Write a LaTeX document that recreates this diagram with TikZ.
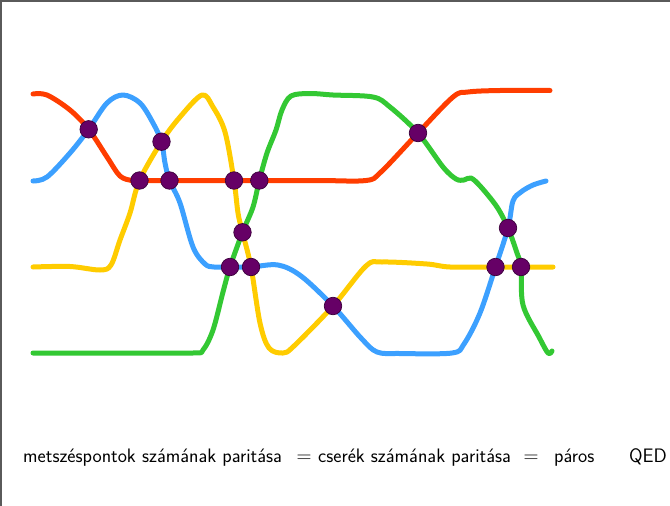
\documentclass[tikz,border=0pt]{standalone}
\usepackage{fontspec}
\begin{document}
\definecolor{cred}{RGB}{255,61,0}
\definecolor{cblue}{RGB}{60,160,255}
\definecolor{cyellow}{RGB}{255,204,0}
\definecolor{cgreen}{RGB}{51,200,51}
\definecolor{dotpurple}{RGB}{102,0,102}
\definecolor{dotedge}{RGB}{60,0,60}
\definecolor{framegray}{RGB}{90,90,90}
\begin{tikzpicture}[x=1pt,y=-1pt,
  strand/.style={line width=5pt, line cap=round, line join=round},
  crossdot/.style={circle, fill=dotpurple, draw=dotedge, line width=0.7pt, minimum size=17.5pt, inner sep=0pt},
  caption/.style={font=\sffamily\fontsize{19.5}{23}\selectfont, inner sep=0pt}]
\useasboundingbox (0,0) rectangle (670,506);
\draw[framegray, line width=1.6pt] (1.2,506) -- (1.2,1.2) -- (670,1.2);

% crossing points
\coordinate (p1) at (88.7,129.3);
\coordinate (p2) at (161.5,141.7);
\coordinate (p3) at (139.5,180.5);
\coordinate (p4) at (169.5,180.5);
\coordinate (p5) at (234,180.5);
\coordinate (p6) at (259.3,180.5);
\coordinate (p7) at (242.5,232.3);
\coordinate (p8) at (230,267);
\coordinate (p9) at (251,267);
\coordinate (p10) at (333,306);
\coordinate (p11) at (418,133);
\coordinate (p12) at (508,228);
\coordinate (p13) at (495.5,267);
\coordinate (p14) at (521,267);

% red
\draw[strand, cred] plot[smooth, tension=0.55] coordinates {
 (33,94) (47,95) (70,110) (p1) (107,157) (120,176) (132,180.5) (p3) (p4) (p5) (p6) (320,180.5) (366,180.5) (381,172) (p11) (453,97) (468,92) (500,90.5) (550,90.5)};
% blue
\draw[strand, cblue] plot[smooth, tension=0.55] coordinates {
 (33,181) (47,177) (70,153) (p1) (107,103) (123,95) (140,103) (153,123) (p2) (165,163) (p4) (180,203) (193,247) (205,264) (214,267) (p8) (p9) (278,265) (301,276) (p10) (361,338) (377,352) (400,353.5) (452,353) (464,344) (480,313) (p13) (p12) (513,201) (521,192) (533,185) (546,181)};
% yellow
\draw[strand, cyellow] plot[smooth, tension=0.55] coordinates {
 (33,267) (70,266.5) (100,270) (111,265) (120,240) (130,213) (p3) (p2) (180,117) (202,95) (213,107) (225,132) (p5) (238,213) (p7) (p9) (260,323) (269,348) (283,353) (294,346) (p10) (366,266) (382,262) (427,264) (450,267) (p13) (p14) (553,267)};
% green
\draw[strand, cgreen] plot[smooth, tension=0.55] coordinates {
 (33,353) (120,353) (193,353) (203,350) (213,330) (223,292) (p8) (p7) (253,207) (p6) (267,153) (276,130) (282,110) (291,96) (310,93.5) (333,95) (373,97) (390,107) (p11) (443,167) (456,179) (464,180) (471,178) (481,187) (497,207) (p12) (517,253) (p14) (523,305) (539,337) (548,353) (552,351)};

\foreach \i in {1,...,14} { \node[crossdot] (d\i) at (p\i) {}; }

\node[caption, anchor=base west] (t1) at (23,462) {metszéspontok számának paritása};
\node[caption, anchor=base] (eq1) at (304,462) {$=$};
\node[caption, anchor=base west] (t2) at (318,462) {cserék számának paritása};
\node[caption, anchor=base] (eq2) at (531,462) {$=$};
\node[caption, anchor=base west] (t3) at (554,462) {páros};
\node[caption, anchor=base east] (qed) at (667,462) {QED};
\end{tikzpicture}
\end{document}
